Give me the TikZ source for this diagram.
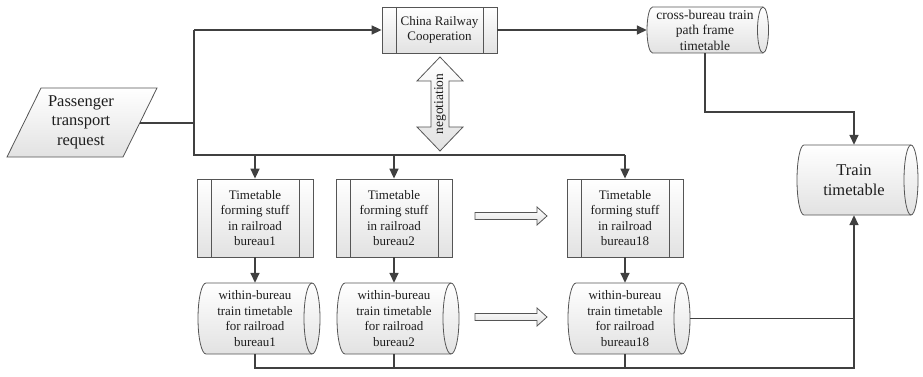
\documentclass[tikz,border=0pt]{standalone}
\usepackage{fontspec}
\setmainfont{Liberation Serif}
\usetikzlibrary{arrows.meta,calc}

\definecolor{ln}{HTML}{404040}
\definecolor{bd}{HTML}{555555}
\definecolor{sh}{HTML}{E2E2E2}
\definecolor{tx}{HTML}{1E1E1E}

\tikzset{
  shapefill/.style={top color=white, bottom color=sh, draw=bd, line width=0.8pt},
  conn/.style={draw=ln, line width=1.6pt},
  thinconn/.style={draw=ln, line width=1.1pt},
  tip/.style={-{Triangle[length=10pt,width=9pt]}},
  lbl/.style={align=center, text=tx, inner sep=0pt, font=\fontsize{13}{15.5}\selectfont},
  bigtext/.style={font=\fontsize{16.5}{19.5}\selectfont},
}

% predefined-process box: name, cx, cy, width, height, text
\newcommand\procbox[6]{%
  \node[lbl, shapefill, minimum width=#4pt, minimum height=#5pt,
        path picture={
          \draw[bd, line width=0.8pt]
            ([xshift=14pt]path picture bounding box.north west) --
            ([xshift=14pt]path picture bounding box.south west)
            ([xshift=-14pt]path picture bounding box.north east) --
            ([xshift=-14pt]path picture bounding box.south east);
        }] (#1) at (#2,#3) {#6};
}

% stored-data cylinder lying on its side:
% name, cx, cy, body width, height, end radius, extra style, text
\newcommand\ddata[8]{%
  \path[shapefill]
    ({#2-#4/2+#6},{#3+#5/2}) -- ({#2+#4/2},{#3+#5/2})
    arc[start angle=90, end angle=-90, x radius=#6pt, y radius={#5pt/2}]
    -- ({#2-#4/2+#6},{#3-#5/2})
    arc[start angle=270, end angle=90, x radius=#6pt, y radius={#5pt/2}]
    -- cycle;
  \draw[bd, line width=0.8pt] ({#2+#4/2},{#3+#5/2})
    arc[start angle=90, end angle=270, x radius=#6pt, y radius={#5pt/2}];
  \node[lbl, minimum width=#4pt, minimum height=#5pt, #7] (#1) at (#2,#3) {#8};
  \coordinate (#1-e) at ({#2+#4/2+#6},#3);
}

\begin{document}
\begin{tikzpicture}[x=1pt, y=1pt]
  \useasboundingbox (0,0) rectangle (923,-377);

  % input: passenger transport request
  \path[shapefill] (41,-88) -- (157,-88) -- (123,-157) -- (7,-157) -- cycle;
  \node[lbl, bigtext] (pass) at (81,-122) {Passenger\\transport\\request};
  \coordinate (pass-e) at (140,-123);

  % central body and the cross-bureau plan
  \procbox{cr}{439.5}{-30}{115}{46}{China Railway\\Cooperation}
  \ddata{cross}{705}{-30}{116}{46}{5.5}{font=\fontsize{13.5}{15.5}\selectfont}%
    {cross-bureau train\\path frame\\timetable}

  % final product
  \ddata{train}{854}{-180}{114}{70}{7}{bigtext}{Train\\timetable}

  % negotiation double arrow
  \path[shapefill] (440,-57) -- (463,-81) -- (449,-81) -- (449,-127) -- (463,-127)
    -- (440,-151) -- (417,-127) -- (431,-127) -- (431,-81) -- (417,-81) -- cycle;
  \node[lbl, rotate=90, font=\fontsize{13.5}{15}\selectfont] (neg) at (440,-104) {negotiation};

  % railroad bureaus
  \procbox{b1}{255}{-218}{116}{78}{Timetable\\forming stuff\\in railroad\\bureau1}
  \procbox{b2}{394}{-218}{116}{78}{Timetable\\forming stuff\\in railroad\\bureau2}
  \procbox{b18}{625}{-218}{116}{78}{Timetable\\forming stuff\\in railroad\\bureau18}

  \ddata{c1}{255}{-318.5}{114}{71}{8}{}{within-bureau\\train timetable\\for railroad\\bureau1}
  \ddata{c2}{394}{-318.5}{114}{71}{8}{}{within-bureau\\train timetable\\for railroad\\bureau2}
  \ddata{c18}{625}{-318.5}{114}{71}{8}{}{within-bureau\\train timetable\\for railroad\\bureau18}

  % "and so on" hollow arrows
  \foreach \yy in {-216,-317}{
    \path[shapefill] (475,\yy+3.5) -- (537,\yy+3.5) -- (537,\yy+9) -- (547,\yy)
      -- (537,\yy-9) -- (537,\yy-3.5) -- (475,\yy-3.5) -- cycle;
  }

  % connectors
  \coordinate (jm) at (194,-123);
  \coordinate (jt) at (194,-30);
  \coordinate (jb) at (194,-155);
  \draw[conn] (pass-e) -- (jm);
  \draw[conn] (jt) -- (jb) -- (jb -| b18.north);
  \draw[conn, tip] (jt) -- (cr.west);
  \draw[conn, tip] (jb -| b1.north) -- (b1.north);
  \draw[conn, tip] (jb -| b2.north) -- (b2.north);
  \draw[conn, tip] (jb -| b18.north) -- (b18.north);

  \draw[conn, tip] (cr.east) -- (cross.west);
  \draw[conn, tip] (cross.south) -- ++(0,-59) -| (train.north);

  \draw[conn, tip] (b1.south) -- (c1.north);
  \draw[conn, tip] (b2.south) -- (c2.north);
  \draw[conn, tip] (b18.south) -- (c18.north);

  \draw[conn, tip] (c1.south) -- ++(0,-14) -| (train.south);
  \draw[conn] (c2.south) -- ++(0,-14);
  \draw[conn] (c18.south) -- ++(0,-14);
  \draw[thinconn] (c18-e) -- (c18-e -| train.south);
\end{tikzpicture}
\end{document}
